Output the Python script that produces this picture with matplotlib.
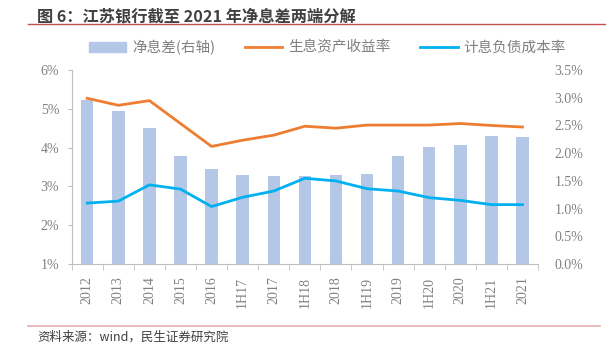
import numpy as np
import matplotlib.pyplot as plt
from matplotlib.patches import Patch
from matplotlib.lines import Line2D

plt.rcParams['font.family'] = ['Noto Sans CJK SC', 'DejaVu Sans']

periods = ['2012', '2013', '2014', '2015', '2016', '1H17', '2017', '1H18',
           '2018', '1H19', '2019', '1H20', '2020', '1H21', '2021']
nim = [2.95, 2.76, 2.46, 1.95, 1.71, 1.61, 1.59, 1.58,
       1.60, 1.62, 1.95, 2.11, 2.15, 2.30, 2.29]
asset_yield = [5.27, 5.09, 5.21, 4.62, 4.03, 4.19, 4.32, 4.55,
               4.50, 4.58, 4.58, 4.58, 4.62, 4.57, 4.53]
liab_cost = [2.57, 2.62, 3.04, 2.93, 2.48, 2.72, 2.88, 3.21,
             3.14, 2.94, 2.88, 2.71, 2.64, 2.53, 2.53]

bar_c = '#B4C7E7'
orange = '#ED7D31'
blue = '#00B0F0'
grey = '#808080'
serif = 'Liberation Serif'

fig = plt.figure(figsize=(6.06, 3.57), dpi=100)
ax = fig.add_axes([0.1183, 0.2605, 0.7695, 0.5435])
ax2 = ax.twinx()

x = np.arange(len(periods))
ax2.bar(x, nim, width=0.4, color=bar_c, zorder=1)
ax.plot(x, asset_yield, color=orange, lw=2, zorder=3)
ax.plot(x, liab_cost, color=blue, lw=2, zorder=3)

# lines on top of bars
ax.set_zorder(ax2.get_zorder() + 1)
ax.patch.set_visible(False)

ax.set_xlim(-0.5, len(periods) - 0.5)
ax.set_ylim(1, 6)
ax2.set_ylim(0, 3.5)

ax.set_yticks(np.arange(1, 7))
ax.set_yticklabels([f'{v}%' for v in range(1, 7)], fontfamily=serif,
                   fontsize=10, color=grey)
ax2.set_yticks(np.arange(0, 3.51, 0.5))
ax2.set_yticklabels([f'{v:.1f}%' for v in np.arange(0, 3.51, 0.5)],
                    fontfamily=serif, fontsize=10, color=grey)

ax.set_xticks(x)
ax.set_xticklabels(periods, rotation=90, fontfamily=serif, fontsize=10,
                   color=grey)
ax.set_xticks(np.arange(-0.5, len(periods)), minor=True)
ax.tick_params(axis='x', which='major', length=0, pad=9)
ax.tick_params(axis='x', which='minor', length=4, color='#BFBFBF')
ax.tick_params(axis='y', length=3, color='#BFBFBF', pad=6)
ax2.tick_params(axis='y', length=0, pad=12)

for a in (ax, ax2):
    for s in ('top', 'right', 'left', 'bottom'):
        a.spines[s].set_visible(False)
ax.spines['left'].set_visible(True)
ax.spines['bottom'].set_visible(True)
ax.spines['left'].set_color('#BFBFBF')
ax.spines['bottom'].set_color('#BFBFBF')

handles = [Patch(color=bar_c), Line2D([], [], color=orange, lw=2),
           Line2D([], [], color=blue, lw=2)]
labels = ['净息差(右轴)', '生息资产收益率', '计息负债成本率']
fig.legend(handles, labels, loc='center', bbox_to_anchor=(0.54, 0.868),
           ncol=3, frameon=False, fontsize=10.5, handlelength=2.6,
           columnspacing=2.0, handletextpad=0.4, labelcolor=grey)

fig.text(0.061, 0.955, '图 6：江苏银行截至 2021 年净息差两端分解',
         fontsize=11.7, fontweight='bold', color='#404040', va='center')
fig.add_artist(Line2D([0.046, 1.0], [0.934, 0.934], color='#C0504D', lw=1))
fig.add_artist(Line2D([0.046, 0.99], [0.088, 0.088], color='#E6B0B0', lw=1.2))
fig.text(0.061, 0.055, '资料来源：wind，民生证券研究院', fontsize=9,
         color='#404040', va='center')

fig.savefig('out.png', dpi=100)
